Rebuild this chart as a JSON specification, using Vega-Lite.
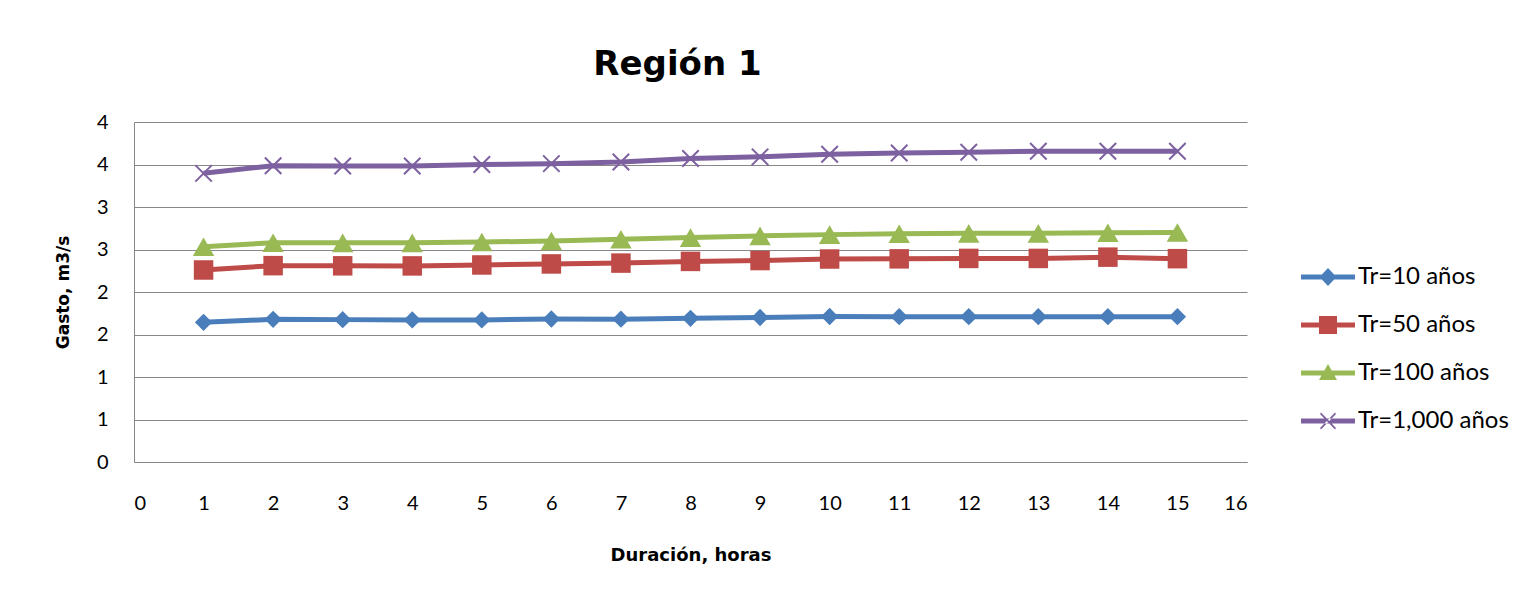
{
  "$schema": "https://vega.github.io/schema/vega-lite/v6.json",
  "width": 1113,
  "height": 340,
  "autosize": "none",
  "padding": {"left": 134, "top": 122, "right": 272, "bottom": 136},
  "background": "white",
  "config": {
    "font": "Lato",
    "view": {"stroke": null},
    "axis": {"gridColor": "#878787", "domainColor": "#878787", "ticks": false, "labelColor": "#000000", "titleColor": "#000000", "labelFont": "Lato", "titleFont": "DejaVu Sans"}
  },
  "title": {"text": "Región 1", "fontSize": 34, "fontWeight": "bold", "font": "DejaVu Sans", "color": "#000000", "anchor": "middle", "dx": -13, "offset": 30},
  "data": {"values": [
    {"serie": "Tr=10 años", "d": 1, "q": 1.643}, {"serie": "Tr=10 años", "d": 2, "q": 1.678}, {"serie": "Tr=10 años", "d": 3, "q": 1.675}, {"serie": "Tr=10 años", "d": 4, "q": 1.672}, {"serie": "Tr=10 años", "d": 5, "q": 1.672}, {"serie": "Tr=10 años", "d": 6, "q": 1.682}, {"serie": "Tr=10 años", "d": 7, "q": 1.68}, {"serie": "Tr=10 años", "d": 8, "q": 1.69}, {"serie": "Tr=10 años", "d": 9, "q": 1.7}, {"serie": "Tr=10 años", "d": 10, "q": 1.712}, {"serie": "Tr=10 años", "d": 11, "q": 1.71}, {"serie": "Tr=10 años", "d": 12, "q": 1.71}, {"serie": "Tr=10 años", "d": 13, "q": 1.71}, {"serie": "Tr=10 años", "d": 14, "q": 1.71}, {"serie": "Tr=10 años", "d": 15, "q": 1.71},
    {"serie": "Tr=50 años", "d": 1, "q": 2.259}, {"serie": "Tr=50 años", "d": 2, "q": 2.31}, {"serie": "Tr=50 años", "d": 3, "q": 2.308}, {"serie": "Tr=50 años", "d": 4, "q": 2.307}, {"serie": "Tr=50 años", "d": 5, "q": 2.318}, {"serie": "Tr=50 años", "d": 6, "q": 2.33}, {"serie": "Tr=50 años", "d": 7, "q": 2.34}, {"serie": "Tr=50 años", "d": 8, "q": 2.36}, {"serie": "Tr=50 años", "d": 9, "q": 2.37}, {"serie": "Tr=50 años", "d": 10, "q": 2.388}, {"serie": "Tr=50 años", "d": 11, "q": 2.39}, {"serie": "Tr=50 años", "d": 12, "q": 2.395}, {"serie": "Tr=50 años", "d": 13, "q": 2.395}, {"serie": "Tr=50 años", "d": 14, "q": 2.41}, {"serie": "Tr=50 años", "d": 15, "q": 2.392},
    {"serie": "Tr=100 años", "d": 1, "q": 2.533}, {"serie": "Tr=100 años", "d": 2, "q": 2.58}, {"serie": "Tr=100 años", "d": 3, "q": 2.578}, {"serie": "Tr=100 años", "d": 4, "q": 2.578}, {"serie": "Tr=100 años", "d": 5, "q": 2.588}, {"serie": "Tr=100 años", "d": 6, "q": 2.6}, {"serie": "Tr=100 años", "d": 7, "q": 2.62}, {"serie": "Tr=100 años", "d": 8, "q": 2.64}, {"serie": "Tr=100 años", "d": 9, "q": 2.66}, {"serie": "Tr=100 años", "d": 10, "q": 2.675}, {"serie": "Tr=100 años", "d": 11, "q": 2.686}, {"serie": "Tr=100 años", "d": 12, "q": 2.69}, {"serie": "Tr=100 años", "d": 13, "q": 2.69}, {"serie": "Tr=100 años", "d": 14, "q": 2.698}, {"serie": "Tr=100 años", "d": 15, "q": 2.7},
    {"serie": "Tr=1,000 años", "d": 1, "q": 3.396}, {"serie": "Tr=1,000 años", "d": 2, "q": 3.486}, {"serie": "Tr=1,000 años", "d": 3, "q": 3.482}, {"serie": "Tr=1,000 años", "d": 4, "q": 3.482}, {"serie": "Tr=1,000 años", "d": 5, "q": 3.5}, {"serie": "Tr=1,000 años", "d": 6, "q": 3.51}, {"serie": "Tr=1,000 años", "d": 7, "q": 3.53}, {"serie": "Tr=1,000 años", "d": 8, "q": 3.57}, {"serie": "Tr=1,000 años", "d": 9, "q": 3.59}, {"serie": "Tr=1,000 años", "d": 10, "q": 3.62}, {"serie": "Tr=1,000 años", "d": 11, "q": 3.635}, {"serie": "Tr=1,000 años", "d": 12, "q": 3.645}, {"serie": "Tr=1,000 años", "d": 13, "q": 3.655}, {"serie": "Tr=1,000 años", "d": 14, "q": 3.655}, {"serie": "Tr=1,000 años", "d": 15, "q": 3.655}
  ]},
  "encoding": {
    "x": {"field": "d", "type": "quantitative", "scale": {"domain": [0, 16], "nice": false, "zero": false},
      "axis": {"values": [0,1,2,3,4,5,6,7,8,9,10,11,12,13,14,15,16], "grid": false, "title": "Duración, horas", "titleFontSize": 18, "titleFontWeight": "bold", "labelFontSize": 20, "labelPadding": 31, "titlePadding": 33}},
    "y": {"field": "q", "type": "quantitative", "scale": {"domain": [0, 4], "nice": false},
      "axis": {"values": [0,0.5,1,1.5,2,2.5,3,3.5,4], "labelExpr": "round(datum.value) + ''", "grid": true, "title": "Gasto, m3/s", "titleFontSize": 17, "titleFontWeight": "bold", "labelFontSize": 20, "labelPadding": 26, "titlePadding": 24}},
    "color": {"field": "serie", "type": "nominal",
      "scale": {"domain": ["Tr=10 años", "Tr=50 años", "Tr=100 años", "Tr=1,000 años"], "range": ["#4A7EBB", "#BE4B48", "#98B954", "#7D60A0"]},
      "legend": {"title": null, "orient": "none", "legendX": 1174, "legendY": 135, "labelFontSize": 24, "labelFont": "Lato", "labelColor": "#000000", "symbolSize": 1600, "symbolOpacity": 1, "symbolStrokeWidth": 0, "labelOffset": 10, "rowPadding": 16}
    }
  },
  "layer": [
    {"mark": {"type": "line", "strokeWidth": 5}},
    {"transform": [{"filter": "datum.serie == 'Tr=10 años'"}],
      "mark": {"type": "point", "shape": "diamond", "filled": true, "opacity": 1, "size": 300}},
    {"transform": [{"filter": "datum.serie == 'Tr=50 años'"}],
      "mark": {"type": "point", "shape": "square", "filled": true, "opacity": 1, "size": 380}},
    {"transform": [{"filter": "datum.serie == 'Tr=100 años'"}],
      "mark": {"type": "point", "shape": "triangle-up", "filled": true, "opacity": 1, "size": 460}},
    {"transform": [{"filter": "datum.serie == 'Tr=1,000 años'"}],
      "mark": {"type": "point", "shape": "M-1,-1L1,1M-1,1L1,-1", "filled": false, "opacity": 1, "size": 272, "strokeWidth": 2}},
    {"mark": {"type": "point", "filled": true, "opacity": 0},
      "encoding": {
        "shape": {"field": "serie", "type": "nominal",
          "scale": {"domain": ["Tr=10 años", "Tr=50 años", "Tr=100 años", "Tr=1,000 años"],
            "range": [
              "M-1.35,-0.125L1.35,-0.125L1.35,0.125L-1.35,0.125ZM-0.42,0L0,-0.45L0.42,0L0,0.45Z",
              "M-1.35,-0.125L1.35,-0.125L1.35,0.125L-1.35,0.125ZM-0.45,-0.45L0.45,-0.45L0.45,0.45L-0.45,0.45Z",
              "M-1.35,-0.125L1.35,-0.125L1.35,0.125L-1.35,0.125ZM-0.45,0.35L0,-0.45L0.45,0.35Z",
              "M-1.35,-0.125L1.35,-0.125L1.35,0.125L-1.35,0.125ZM-0.4,-0.35L-0.35,-0.42L0.4,0.35L0.35,0.42ZM-0.4,0.35L-0.35,0.42L0.4,-0.35L0.35,-0.42Z"
            ]}}
      }}
  ]
}
